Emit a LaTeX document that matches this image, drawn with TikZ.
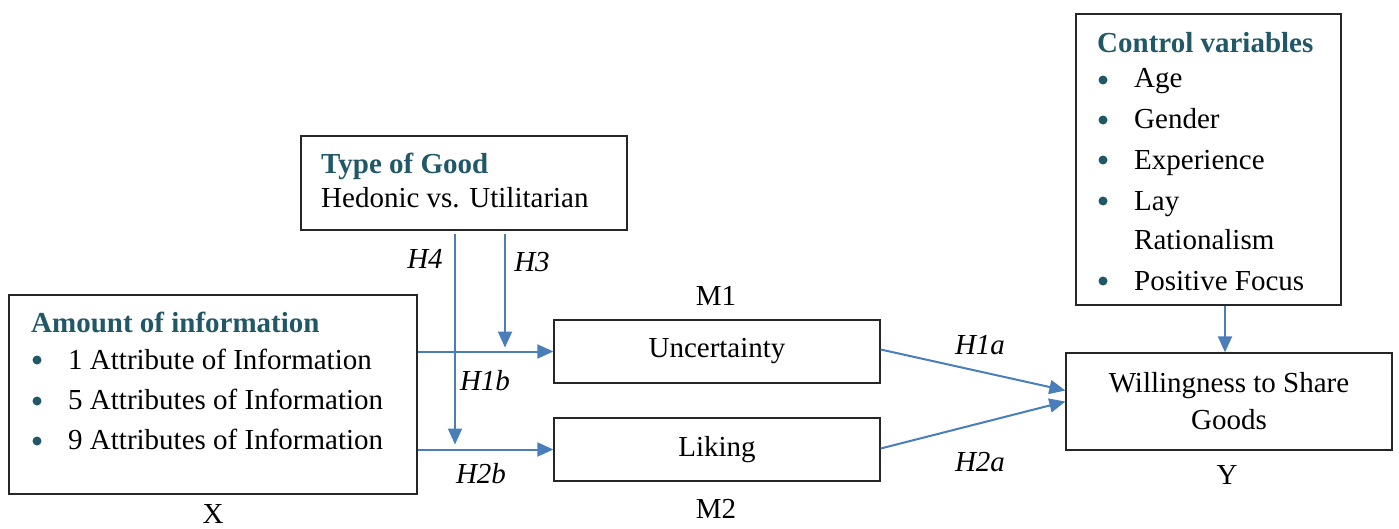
\documentclass[tikz,border=0pt]{standalone}
\usepackage{fontspec}
\setmainfont{Liberation Serif}
\usetikzlibrary{arrows.meta}
\definecolor{titlecol}{HTML}{215868}
\definecolor{arrowblue}{HTML}{4A7EBB}
\begin{document}
\begin{tikzpicture}[x=1pt,y=-1pt,
  font=\fontsize{29}{37}\selectfont,
  box/.style={draw=black!85, line width=1.3pt, rectangle, inner sep=0pt},
  arr/.style={draw=arrowblue, line width=2pt, -{Triangle[length=16pt,width=14pt]}},
  lab/.style={font=\fontsize{29}{34}\selectfont\itshape, inner sep=0pt},
  plain/.style={inner sep=0pt},
  ttl/.style={font=\fontsize{29}{34}\selectfont\bfseries, text=titlecol, inner sep=0pt, anchor=base west},
  item/.style={inner sep=0pt, anchor=base west},
  bul/.style={fill=titlecol}]
\useasboundingbox (0,0) rectangle (1399,528);

% boxes
\node[box, minimum width=408pt, minimum height=199pt] (amount) at (213,394.5) {};
\node[box, minimum width=326pt, minimum height=94pt] (type) at (464,183) {};
\node[box, minimum width=326pt, minimum height=63pt] (unc) at (717,351.5) {Uncertainty};
\node[box, minimum width=326pt, minimum height=63pt] (liking) at (717,449.5) {Liking};
\node[box, minimum width=326pt, minimum height=97pt, align=center] (will) at (1229,401.5) {Willingness to Share\\Goods};
\node[box, minimum width=265pt, minimum height=291pt] (control) at (1208.5,159.5) {};

% amount box text
\node[ttl] (amttl) at (31,332) {Amount of information};
\fill[bul] (37,360) circle (4.5pt);
\fill[bul] (37,401) circle (4.5pt);
\fill[bul] (37,441) circle (4.5pt);
\node[item] (a1) at (68,369) {1 Attribute of Information};
\node[item] (a2) at (68,409) {5 Attributes of Information};
\node[item] (a3) at (68,449) {9 Attributes of Information};

% type box text
\node[ttl] (tyttl) at (321,173) {Type of Good};
\node[item] (ty1) at (321,207) {Hedonic vs. Utilitarian};

% control box text
\node[ttl] (ctttl) at (1097,52) {Control variables};
\fill[bul] (1103,80) circle (4.5pt);
\fill[bul] (1103,120) circle (4.5pt);
\fill[bul] (1103,160) circle (4.5pt);
\fill[bul] (1103,201) circle (4.5pt);
\fill[bul] (1103,281) circle (4.5pt);
\node[item] (c1) at (1134,87) {Age};
\node[item] (c2) at (1134,128) {Gender};
\node[item] (c3) at (1134,169) {Experience};
\node[item] (c4) at (1134,210) {Lay};
\node[item] (c5) at (1134,249) {Rationalism};
\node[item] (c6) at (1134,290) {Positive Focus};

% labels
\node[plain] (m1) at (716,296) {M1};
\node[plain] (m2) at (716,509) {M2};
\node[plain] (xl) at (213,514) {X};
\node[plain] (yl) at (1227,475) {Y};
\node[lab] (h4) at (425,259) {H4};
\node[lab] (h3) at (532,262) {H3};
\node[lab] (h1b) at (485,381) {H1b};
\node[lab] (h2b) at (481,474) {H2b};
\node[lab] (h1a) at (980,345) {H1a};
\node[lab] (h2a) at (980,462) {H2a};

% connectors
\coordinate (h4x) at ([xshift=-9pt]type.south);
\coordinate (h3x) at ([xshift=41pt]type.south);
\draw[arr] (amount.east |- unc.west) -- (unc.west);
\draw[arr] (amount.east |- liking.west) -- (liking.west);
\draw[arr] ([yshift=-3pt]h4x) -- ([yshift=5pt]h4x |- liking.west);
\draw[arr] ([yshift=-3pt]h3x) -- ([yshift=4pt]h3x |- unc.west);
\draw[arr] ([yshift=2pt]unc.east) -- ([yshift=11pt]will.west);
\draw[arr] ([yshift=1pt]liking.east) -- (will.west);
\coordinate (ctl) at ([xshift=-4pt]will.north);
\draw[arr] (ctl |- control.south) -- (ctl);
\end{tikzpicture}
\end{document}
